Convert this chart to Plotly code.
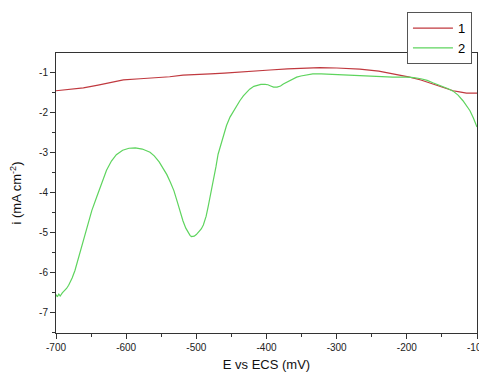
import plotly.graph_objects as go

# Curve 1 (red)
e1 = [-700, -680, -661, -640, -620, -604, -580, -560, -538, -519, -500, -480, -460, -440,
      -420, -409, -395, -370, -350, -324, -300, -267, -240, -220, -196, -180, -160, -145,
      -134, -125, -115, -108, -100]
i1 = [-1.46, -1.43, -1.39, -1.32, -1.24, -1.19, -1.16, -1.14, -1.11, -1.07, -1.06, -1.04,
      -1.02, -1.00, -0.98, -0.96, -0.94, -0.91, -0.90, -0.88, -0.89, -0.92, -0.97, -1.03,
      -1.12, -1.19, -1.30, -1.39, -1.46, -1.49, -1.52, -1.52, -1.52]

# Curve 2 (green)
e2 = [-700, -698, -696, -694, -691, -688, -685, -682, -677, -673, -667, -661, -655, -649,
      -642, -635, -628, -621, -614, -605, -596, -587, -577, -566, -560, -553, -547, -542,
      -537, -532, -527, -523, -519, -515, -512, -509, -507, -505, -503, -500, -497, -493,
      -490, -486, -483, -479, -476, -472, -469, -465, -462, -457, -452, -447, -442, -438,
      -433, -428, -424, -418, -413, -408, -402, -398, -394, -390, -385, -380, -376, -371,
      -366, -361, -357, -351, -345, -340, -334, -322, -310, -298, -286, -265, -243, -220,
      -200, -190, -180, -171, -163, -155, -148, -141, -134, -127, -120, -115, -110, -105,
      -100]
i2 = [-6.56, -6.62, -6.55, -6.60, -6.52, -6.47, -6.41, -6.33, -6.15, -5.96, -5.60, -5.21,
      -4.85, -4.46, -4.12, -3.80, -3.45, -3.22, -3.06, -2.95, -2.90, -2.89, -2.92, -3.00,
      -3.09, -3.24, -3.40, -3.56, -3.75, -3.96, -4.25, -4.50, -4.72, -4.90, -5.01, -5.08,
      -5.11, -5.11, -5.10, -5.06, -5.00, -4.92, -4.82, -4.60, -4.35, -4.02, -3.71, -3.36,
      -3.05, -2.80, -2.60, -2.33, -2.12, -1.96, -1.83, -1.71, -1.59, -1.49, -1.42, -1.35,
      -1.32, -1.30, -1.30, -1.31, -1.34, -1.37, -1.37, -1.34, -1.29, -1.24, -1.19, -1.15,
      -1.12, -1.09, -1.07, -1.05, -1.04, -1.04, -1.05, -1.07, -1.08, -1.10, -1.11, -1.12,
      -1.12, -1.13, -1.16, -1.20, -1.26, -1.31, -1.36, -1.41, -1.47, -1.57, -1.71, -1.82,
      -1.96, -2.15, -2.37]

x_ticks = [-700, -600, -500, -400, -300, -200, -100]
y_ticks = [-7, -6, -5, -4, -3, -2, -1]

fig = go.Figure()
fig.add_trace(go.Scatter(x=e1, y=i1, mode="lines", name="1",
                         line=dict(color="#c0393f", width=1.2)))
fig.add_trace(go.Scatter(x=e2, y=i2, mode="lines", name="2",
                         line=dict(color="#5ed45e", width=1.2)))

FONT = "Liberation Sans, Arial, sans-serif"
tickfont = dict(family=FONT, size=10, color="#222")
# page body has a default 8px margin, so the figure is 8px smaller than the window
fig.update_layout(
    width=479, height=364,
    margin=dict(l=48, r=10, t=45, b=39, autoexpand=False),
    paper_bgcolor="white", plot_bgcolor="white",
    showlegend=True,
    legend=dict(x=0.988, y=1.146, xanchor="right", yanchor="top",
                bgcolor="white", bordercolor="#555", borderwidth=1,
                font=dict(family=FONT, size=13, color="black"),
                tracegroupgap=0, itemwidth=40),
    xaxis=dict(range=[-700, -100], tickvals=x_ticks, ticktext=[str(v) for v in x_ticks],
               ticks="outside", ticklen=5, tickcolor="#333", showline=True, linecolor="#333",
               linewidth=1, mirror=True, showgrid=False, zeroline=False, tickfont=tickfont,
               ticklabeloverflow="allow",
               minor=dict(dtick=50, ticks="outside", ticklen=3, tickcolor="#333"),
               title=dict(text="E vs ECS (mV)", standoff=17,
                          font=dict(family=FONT, size=13, color="#111"))),
    yaxis=dict(range=[-7.525, -0.515], tickvals=y_ticks, ticktext=[str(v) for v in y_ticks],
               ticks="outside", ticklen=5, tickcolor="#333", showline=True, linecolor="#333",
               linewidth=1, mirror=True, showgrid=False, zeroline=False, tickfont=tickfont,
               ticklabeloverflow="allow",
               minor=dict(dtick=0.5, ticks="outside", ticklen=3, tickcolor="#333"),
               title=dict(text="i (mA cm<sup>-2</sup>)", standoff=14,
                          font=dict(family=FONT, size=13, color="#111"))),
)

fig.write_html("out.html")
